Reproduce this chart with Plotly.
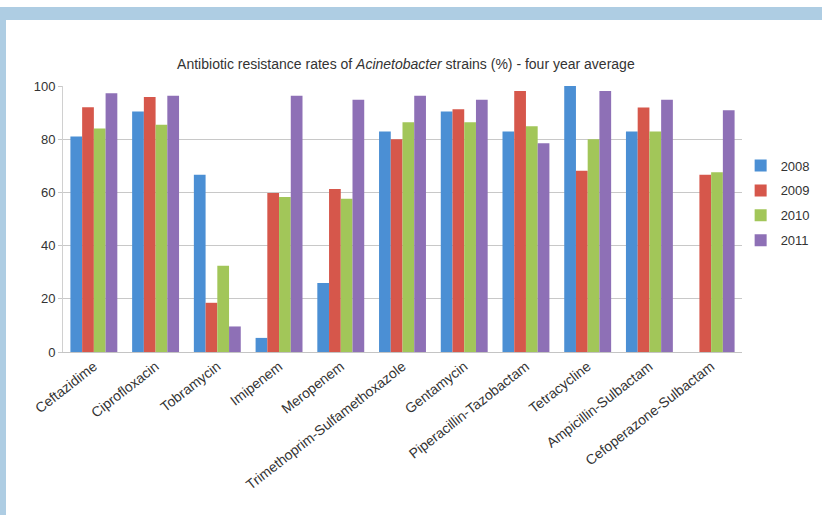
import plotly.graph_objects as go

drugs = ["Ceftazidime", "Ciprofloxacin", "Tobramycin", "Imipenem", "Meropenem",
         "Trimethoprim-Sulfamethoxazole", "Gentamycin", "Piperacillin-Tazobactam",
         "Tetracycline", "Ampicillin-Sulbactam", "Cefoperazone-Sulbactam"]
years = ["2008", "2009", "2010", "2011"]
r2008 = [81, 90.4, 66.6, 5.3, 25.9, 82.9, 90.4, 82.9, 100, 82.9, None]
r2009 = [92, 95.9, 18.5, 59.8, 61.3, 80, 91.3, 98.1, 68.1, 91.9, 66.6]
r2010 = [84, 85.4, 32.4, 58.3, 57.6, 86.4, 86.4, 84.9, 80, 82.9, 67.6]
r2011 = [97.3, 96.3, 9.6, 96.3, 94.8, 96.3, 94.8, 78.5, 98.1, 94.8, 90.9]
colors = ["#4b8fd4", "#d6574b", "#a2c659", "#8e70b6"]

fig = go.Figure()
for yr, vals, c in zip(years, [r2008, r2009, r2010, r2011], colors):
    fig.add_trace(go.Bar(name=yr, x=drugs, y=vals, marker=dict(color=c, line=dict(width=0)),
                         legendgroup=yr))

fig.update_layout(
    width=822, height=515,
    barmode="group", bargap=0.24, bargroupgap=0,
    paper_bgcolor="white", plot_bgcolor="white",
    margin=dict(l=63, r=80, t=86, b=163, autoexpand=False),
    font=dict(family="Liberation Sans, Arial, sans-serif", size=13, color="#333333"),
    title=dict(text="Antibiotic resistance rates of <i>Acinetobacter</i> strains (%) - four year average",
               x=0.505, xanchor="center", xref="paper",
               y=1 - 64 / 515, yanchor="middle", yref="container",
               font=dict(size=14, color="#333333")),
    legend=dict(x=0.998, xanchor="left", y=0.56, yanchor="middle",
                font=dict(size=13, color="#333333"), tracegroupgap=5,
                itemwidth=30, bgcolor="rgba(0,0,0,0)"),
    showlegend=True,
    shapes=[
        dict(type="rect", xref="paper", yref="paper", x0=-63/679, x1=1 + 80/679,
             y0=1 + (86 - 20) / 266, y1=1 + (86 - 7) / 266, fillcolor="#aecde3",
             line=dict(width=0), layer="below"),
        dict(type="rect", xref="paper", yref="paper", x0=-63/679, x1=-57/679,
             y0=-163/266, y1=1 + (86 - 20) / 266, fillcolor="#aecde3",
             line=dict(width=0), layer="below"),
    ],
)
fig.update_xaxes(tickangle=-38, showline=True, linecolor="#c4c4c4", linewidth=1,
                 tickfont=dict(size=14, color="#333333"), ticks="")
fig.update_yaxes(range=[0, 100], dtick=20, showgrid=True, gridcolor="#c8c8c8", gridwidth=1,
                 showline=True, linecolor="#d0d0d0", ticks="outside", ticklen=4,
                 tickcolor="#c8c8c8", tickfont=dict(size=13, color="#333333"), zeroline=False)

fig.write_html("out.html")
